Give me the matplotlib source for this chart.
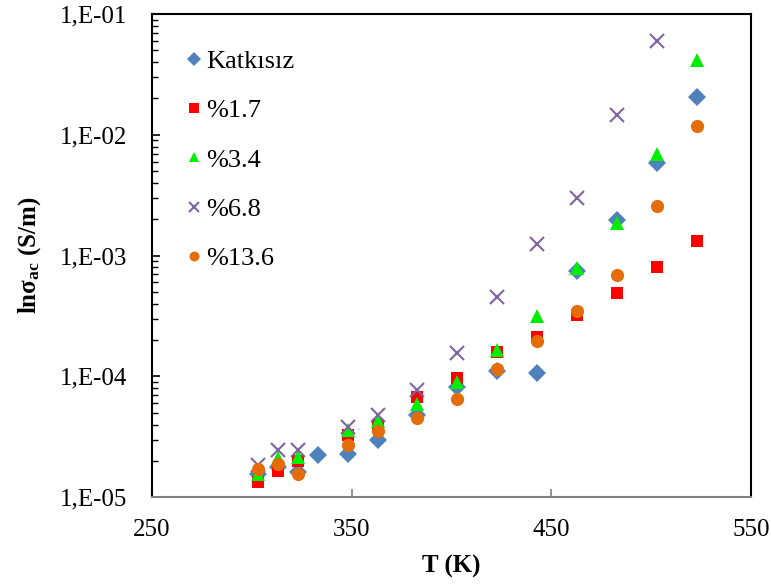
import numpy as np
import matplotlib
matplotlib.use('Agg')
import matplotlib.pyplot as plt
from matplotlib.ticker import FuncFormatter, LogLocator, NullFormatter

plt.rcParams['font.family'] = 'Liberation Serif'
plt.rcParams['mathtext.fontset'] = 'custom'
plt.rcParams['mathtext.rm'] = 'Liberation Serif'
plt.rcParams['mathtext.bf'] = 'Liberation Serif:bold'
plt.rcParams['mathtext.it'] = 'Liberation Serif:italic'

# Temperature (K)
T = [303, 313, 323, 333, 348, 363, 383, 403, 423, 443, 463, 483, 503, 523]
T_doped = [303, 313, 323, 348, 363, 383, 403, 423, 443, 463, 483, 503, 523]
T_68 = [303, 313, 323, 348, 363, 383, 403, 423, 443, 463, 483, 503]

# conductivity (S/m)
katkisiz = [1.55e-5, 1.78e-5, 1.62e-5, 2.25e-5, 2.28e-5, 3.0e-5, 4.8e-5, 8.2e-5,
            1.12e-4, 1.07e-4, 7.5e-4, 1.97e-3, 5.8e-3, 2.07e-2]
p17 = [1.34e-5, 1.65e-5, 2.0e-5, 3.25e-5, 4.0e-5, 6.8e-5, 9.7e-5, 1.6e-4,
       2.13e-4, 3.2e-4, 4.9e-4, 8.1e-4, 1.33e-3]
p34 = [1.55e-5, 2.1e-5, 2.15e-5, 3.6e-5, 4.25e-5, 5.9e-5, 9.0e-5, 1.65e-4,
       3.15e-4, 7.9e-4, 1.85e-3, 7.0e-3, 4.2e-2]
p68 = [1.85e-5, 2.45e-5, 2.47e-5, 3.8e-5, 4.8e-5, 7.7e-5, 1.55e-4, 4.55e-4,
       1.25e-3, 3.0e-3, 1.47e-2, 6.0e-2]
p136 = [1.71e-5, 1.9e-5, 1.55e-5, 2.7e-5, 3.55e-5, 4.5e-5, 6.5e-5, 1.15e-4,
        1.97e-4, 3.5e-4, 6.9e-4, 2.57e-3, 1.18e-2]

fig = plt.figure(figsize=(7.71, 5.85), dpi=100)
ax = fig.add_axes([0.197, 0.150, 0.777, 0.826])

ax.plot(T, katkisiz, 'D', color='#4F81BD', ms=9.5, mew=0, label='Katkısız')
ax.plot(T_doped, p17, 's', color='#FF0000', ms=9, mew=0, label='%1.7')
ax.plot(T_doped, p34, '^', color='#00EE00', ms=10, mew=0, label='%3.4')
ax.plot(T_68, p68, 'x', color='#8064A2', ms=10, mew=1.5, label='%6.8')
ax.plot(T_doped, p136, 'o', color='#E46C0A', ms=9.5, mew=0, label='%13.6')

ax.set_yscale('log')
ax.set_ylim(1e-5, 1e-1)
ax.set_xlim(250, 550)
ax.set_xticks([250, 350, 450, 550])
ax.yaxis.set_major_locator(LogLocator(base=10, numticks=10))
ax.yaxis.set_minor_locator(LogLocator(base=10, subs=np.arange(2, 10), numticks=10))
ax.yaxis.set_minor_formatter(NullFormatter())
ax.yaxis.set_major_formatter(FuncFormatter(lambda v, p: '1,E-%02d' % round(-np.log10(v))))

ax.tick_params(axis='y', which='major', direction='in', length=6, width=1.2, labelsize=18, pad=18)
ax.tick_params(axis='y', which='minor', direction='in', length=4, width=1.0)
ax.tick_params(axis='x', which='major', direction='in', length=6, width=1.2, color='#808080',
               labelsize=18, pad=16)

for s in ['left', 'top', 'right']:
    ax.spines[s].set_linewidth(1.5)
    ax.spines[s].set_color('black')
ax.spines['bottom'].set_linewidth(1.5)
ax.spines['bottom'].set_color('#808080')

ax.set_xlabel('T (K)', fontsize=18, fontweight='bold', labelpad=10)
ax.set_ylabel(r'ln$\mathbf{\sigma}_{\mathbf{ac}}$ (S/m)', fontsize=18, fontweight='bold', labelpad=12)

leg = ax.legend(loc='upper left', bbox_to_anchor=(0.018, 0.976), frameon=False, fontsize=19,
                markerscale=0.75, handlelength=0.6, handletextpad=0.15, labelspacing=0.98)

fig.savefig('out.png', dpi=100)
